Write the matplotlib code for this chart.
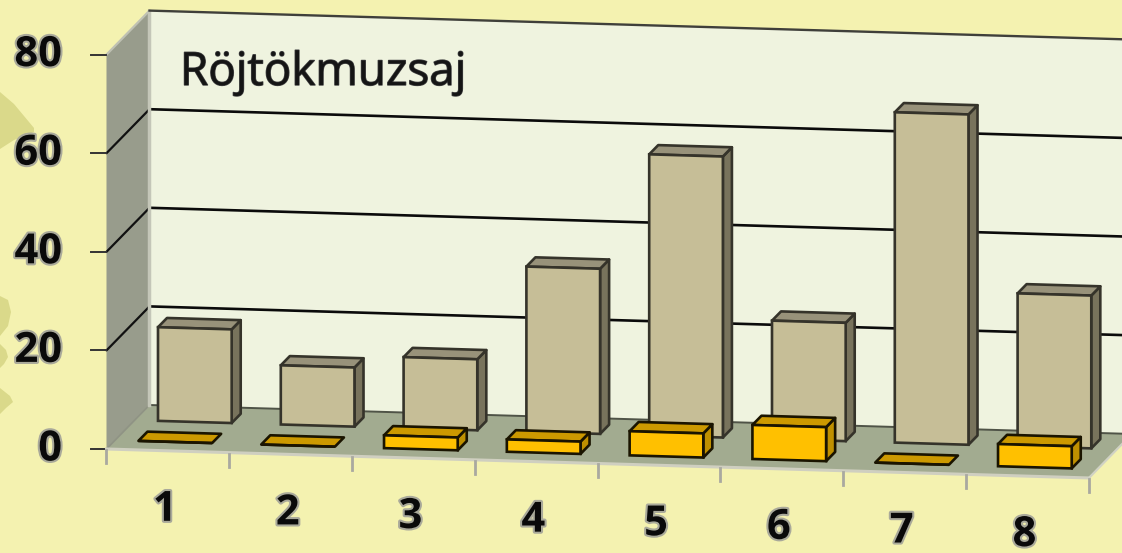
import matplotlib
matplotlib.use("Agg")
import matplotlib.pyplot as plt
import matplotlib.patheffects as pe
from matplotlib.patches import Polygon
from matplotlib.transforms import Affine2D

categories = ["1", "2", "3", "4", "5", "6", "7", "8"]
back_values = [19, 12, 14.4, 33.5, 57, 24, 67, 31]
front_values = [0, 0, 2.6, 2.5, 4.9, 6.9, 0, 4.5]
y_ticks = [0, 20, 40, 60, 80]
title = "Röjtökmuzsaj"

BG = "#F4F2B0"
WALL = "#EFF3DF"
SIDE = "#989C8C"
FLOOR = "#A2AB90"

# oblique projection: category, depth (0 front .. 1 back), value -> pixels
X0, Y0 = 106.5, 449.0
DX_C, DY_C = 122.8, 3.62
DX_D, DY_D = 43.0, -44.0
DY_V = -4.93


def P(c, d, v):
    return (X0 + DX_C * c + DX_D * d, Y0 + DY_C * c + DY_D * d + DY_V * v)


fig = plt.figure(figsize=(11.22, 5.53), dpi=100, facecolor=BG)
ax = fig.add_axes([0, 0, 1, 1])
ax.set_xlim(0, 1122)
ax.set_ylim(553, 0)
ax.axis("off")
ax.set_autoscale_on(False)


def poly(pts, fc, ec="none", lw=0, z=1):
    ax.add_patch(Polygon(pts, closed=True, fc=fc, ec=ec, lw=lw, zorder=z, joinstyle="round"))


# background leaf decoration
leaf = "#DAD98A"
poly([(0, 92), (14, 104), (34, 128), (34, 132), (14, 140), (0, 149)], leaf, z=0)
poly([(0, 296), (8, 300), (11, 312), (8, 326), (0, 336)], leaf, z=0)
poly([(0, 344), (6, 350), (8, 357), (4, 364), (0, 368)], leaf, z=0)
poly([(0, 388), (10, 396), (13, 402), (6, 408), (0, 414)], leaf, z=0)

vmax = max(y_ticks)
n = len(categories)
# walls and floor
poly([P(0, 1, 0), P(n, 1, 0), P(n, 1, vmax), P(0, 1, vmax)], WALL, z=1)
poly([P(0, 0, 0), P(0, 1, 0), P(0, 1, vmax), P(0, 0, vmax)], SIDE, z=2)
poly([P(0, 0, 0), P(n, 0, 0), P(n, 1, 0), P(0, 1, 0)], FLOOR, z=2)

tick_fx = [pe.withStroke(linewidth=3, foreground="#A9A99A")]
# gridlines and value axis
for v in y_ticks:
    a, b, c = P(0, 0, v), P(0, 1, v), P(n, 1, v)
    if 0 < v < vmax:
        ax.plot(*zip(a, b), color="#111111", lw=1.6, zorder=3, solid_capstyle="round")
        ax.plot(*zip(b, c), color="#0a0a0a", lw=1.9, zorder=1.5)
    elif v == vmax:
        ax.plot(*zip(a, b), color="#BFC1B3", lw=1.6, zorder=3, solid_capstyle="round")
    else:
        ax.plot(*zip(a, b), color="#8F9384", lw=1.2, zorder=3)
        ax.plot(*zip(b, c), color="#4F5347", lw=1.4, zorder=3)
    ax.plot([a[0] - 15, a[0]], [a[1], a[1]], color="#333333", lw=1.4, zorder=3)
    ax.text(62, a[1] + 1, str(v), ha="right", va="center", family="Open Sans",
            fontweight="bold", fontsize=30, color="#0a0a0a", zorder=6, path_effects=tick_fx)
ax.plot(*zip(P(0, 1, 0), P(0, 1, vmax)), color="#C4C6B8", lw=2.5, zorder=3)
ax.plot(*zip(P(0, 1, vmax), P(n, 1, vmax)), color="#3F3F3A", lw=1.7, zorder=3)

# front edge of the floor, category ticks and labels
ax.plot(*zip(P(0, 0, 0), P(n, 0, 0)), color="#CFCFC0", lw=2.2, zorder=3)
ax.plot(*zip(P(n, 0, 0), P(n, 1, 0)), color="#D0D2C4", lw=1.6, zorder=3)
for i in range(n + 1):
    x, y = P(i, 0, 0)
    ax.plot([x, x], [y + 1, y + 14], color="#A9A9A0", lw=2, zorder=3)
for i, lab in enumerate(categories):
    x, y = P(i + 0.5, 0, 0)
    ax.text(x - 3, y + 59.5, lab, ha="center", va="center", family="Open Sans",
            fontweight="bold", fontsize=30, color="#0a0a0a", zorder=6, path_effects=tick_fx)

ax.text(180, 73, title, ha="left", va="center", family="Open Sans", fontsize=33,
        color="#151515", zorder=6,
        path_effects=[pe.withStroke(linewidth=1.0, foreground="#444444")])

BAR_C = 0.19
BAR_W = 0.60
BAR_D = 0.21


def bars(values, d0, front, top, side, edge, lw, z):
    xs = [i + BAR_C for i in range(n)]
    t = Affine2D.from_values(DX_C, DY_C, 0, DY_V, X0 + DX_D * d0, Y0 + DY_D * d0) + ax.transData
    d1 = d0 + BAR_D
    for x, v in zip(xs, values):
        if v > 0:
            poly([P(x + BAR_W, d0, 0), P(x + BAR_W, d1, 0), P(x + BAR_W, d1, v), P(x + BAR_W, d0, v)],
                 side, edge, lw, z)
        poly([P(x, d0, v), P(x + BAR_W, d0, v), P(x + BAR_W, d1, v), P(x, d1, v)],
             top, edge, lw, z)
    ax.bar([x + BAR_W / 2 for x in xs], values, width=BAR_W, bottom=0, color=front,
           edgecolor=edge, linewidth=lw, transform=t, zorder=z + 0.1)


bars(back_values, 0.655, "#C6BE97", "#98927A", "#78735C", "#35332A", 1.9, 4)
bars(front_values, 0.20, "#FFC000", "#CC9900", "#BF9000", "#1A1400", 1.9, 5)

fig.savefig("out.png", dpi=100, facecolor=BG)
